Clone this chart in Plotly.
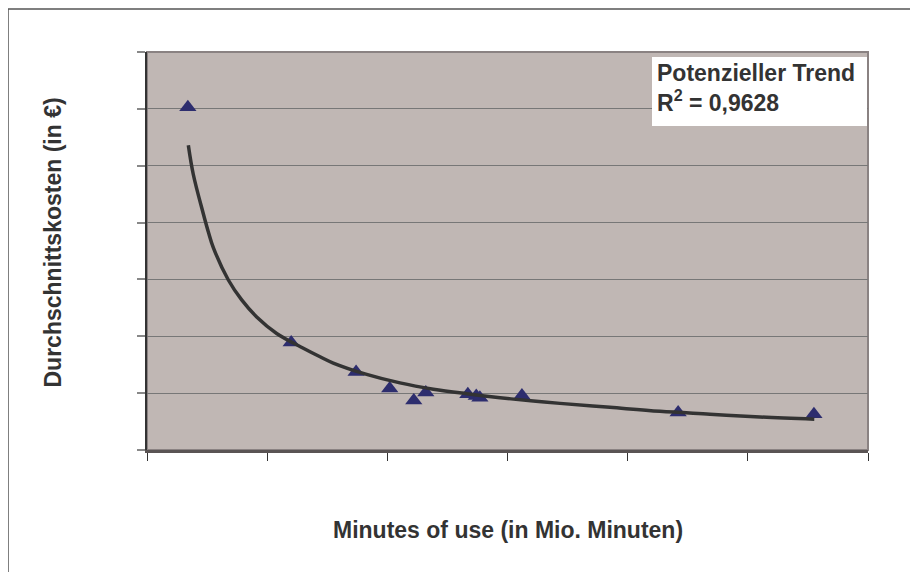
import plotly.graph_objects as go

# Data points (Minutes of use in Mio. Minuten vs. Durchschnittskosten, arbitrary units)
minutes = [34, 120, 174, 202, 222, 232, 267, 274, 277, 312, 442, 555]
kosten = [6.03, 1.89, 1.37, 1.08, 0.87, 1.01, 0.98, 0.95, 0.92, 0.96, 0.66, 0.63]

# Trend line (Potenzieller Trend)
trend_x = [34.4, 38.5, 46.8, 51.0, 55.2, 67.7, 78.8, 91.3, 107.9, 130.1, 144.0, 155.0,
           182.8, 210.5, 238.3, 266.0, 293.8, 321.5, 343.7, 385.3, 426.9, 468.5, 510.1, 555.3]
trend_y = [5.36, 4.85, 4.16, 3.84, 3.56, 2.99, 2.64, 2.34, 2.05, 1.79, 1.64, 1.53,
           1.33, 1.18, 1.07, 0.99, 0.92, 0.86, 0.82, 0.75, 0.68, 0.63, 0.58, 0.54]

x_title = "Minutes of use (in Mio. Minuten)"
y_title = "Durchschnittskosten (in €)"
trend_label = "Potenzieller Trend<br>R<sup>2</sup> = 0,9628"

FONT = "Liberation Sans, Arial, sans-serif"
TXT = "#333333"

# page pixel geometry of the plot area (page has an 8px body margin)
PX0, PX1, PY0, PY1 = 147, 868, 52, 450
W, H = PX1 - PX0, PY1 - PY0


def px(x):
    return (x - PX0) / W


def py(y):
    return (PY1 - y) / H


fig = go.Figure()
fig.add_trace(go.Scatter(
    x=minutes, y=kosten, mode="markers",
    marker=dict(symbol="triangle-up", size=15, color="#2D2D6E"),
    showlegend=False, cliponaxis=False,
))
fig.add_trace(go.Scatter(
    x=trend_x, y=trend_y, mode="lines", line_shape="spline",
    line=dict(color="#333333", width=3.5),
    showlegend=False,
))

fig.update_layout(
    width=910, height=564,
    margin=dict(l=139, r=50, t=44, b=122),
    paper_bgcolor="white",
    plot_bgcolor="#C0B7B4",
    font=dict(family=FONT, color=TXT),
    xaxis=dict(range=[0, 600], dtick=100, tick0=0, showgrid=False, zeroline=False,
               showticklabels=False, ticks="outside", ticklen=8, tickcolor="#333333",
               tickwidth=1.2, showline=True, linecolor="#5a5454", linewidth=2.5),
    yaxis=dict(range=[0, 7], dtick=1, tick0=0, showgrid=True, gridcolor="#777777",
               gridwidth=1.2, zeroline=False, showticklabels=False, ticks="outside",
               ticklen=8, tickcolor="#888888", tickwidth=1.5, showline=True,
               linecolor="#333333", linewidth=1.5),
    shapes=[
        # outer chart frame (cropped on right and bottom)
        dict(type="rect", xref="paper", yref="paper",
             x0=px(8), x1=px(940), y0=py(600), y1=py(9),
             line=dict(color="#555555", width=1.5), layer="below"),
        # plot area border (top/right)
        dict(type="rect", xref="paper", yref="paper", x0=0, x1=1, y0=0, y1=1,
             line=dict(color="#8a8282", width=2), layer="below"),
        # white label box
        dict(type="rect", xref="paper", yref="paper",
             x0=px(652), x1=px(867), y0=py(126), y1=py(57),
             line=dict(width=0), fillcolor="white", layer="above"),
    ],
    annotations=[
        dict(text="<b>" + x_title + "</b>", xref="paper", yref="paper", x=0.5, y=py(530),
             xanchor="center", yanchor="middle", showarrow=False,
             font=dict(size=23, family=FONT, color=TXT)),
        dict(text="<b>" + y_title + "</b>", xref="paper", yref="paper",
             x=px(52), y=py(242.5), textangle=-90,
             xanchor="center", yanchor="middle", showarrow=False,
             font=dict(size=23, family=FONT, color=TXT)),
        dict(text="<b>" + trend_label + "</b>", xref="paper", yref="paper",
             x=px(655), y=py(58), xanchor="left", yanchor="top",
             align="left", showarrow=False,
             font=dict(size=23, family=FONT, color=TXT)),
    ],
)

fig.write_html("out.html")
